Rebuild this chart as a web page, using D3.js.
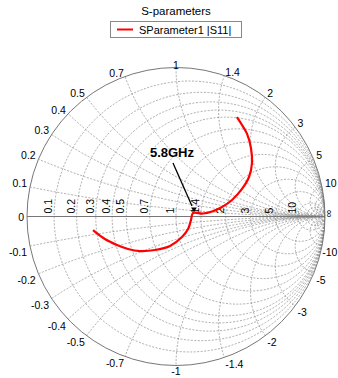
<!DOCTYPE html>
<html>
<head>
<meta charset="utf-8">
<script src="https://cdn.jsdelivr.net/npm/d3@7"></script>
<style>
  body { margin: 0; background: #fff; }
  svg { font-family: Arial, "Liberation Sans", sans-serif; }
</style>
</head>
<body>
<div id="chart"></div>
<script>
// grid values
const resistances = [0.1, 0.2, 0.3, 0.4, 0.5, 0.7, 1, 1.4, 2, 3, 5, 10];
const extraResistances = [15, 20, 30, 50];
const reactances = [0.1, 0.2, 0.3, 0.4, 0.5, 0.7, 1, 1.4, 2, 3, 5, 10];
const extraReactances = [15, 20, 30, 50];

// S11 trace, reflection coefficient
const s11Re = [-0.557, -0.477, -0.396, -0.322, -0.242, -0.141, -0.040, 0.040, 0.081, 0.101, 0.114,
  0.181, 0.242, 0.309, 0.376, 0.443, 0.490, 0.510, 0.503, 0.477, 0.443, 0.409];
const s11Im = [-0.091, -0.151, -0.191, -0.218, -0.232, -0.225, -0.198, -0.138, -0.084, -0.023, 0.023,
  0.020, 0.034, 0.064, 0.111, 0.185, 0.265, 0.359, 0.460, 0.554, 0.614, 0.667];
const markerIndex = 10;
const markerLabel = '5.8GHz';

const width = 338, height = 378;
const cx = 176, cy = 216.5, R = 149;

const svg = d3.select('#chart').append('svg')
  .attr('width', width).attr('height', height);

const x = d3.scaleLinear().domain([-1, 1]).range([cx - R, cx + R]);
const y = d3.scaleLinear().domain([-1, 1]).range([cy + R, cy - R]);
const k = R; // pixels per unit of gamma

svg.append('defs').append('clipPath').attr('id', 'unit')
  .append('circle').attr('cx', x(0)).attr('cy', y(0)).attr('r', k);

const grid = svg.append('g').attr('clip-path', 'url(#unit)')
  .attr('fill', 'none').attr('stroke', '#8a8a8a')
  .attr('stroke-width', 0.7).attr('stroke-dasharray', '2,1.5');

// resistance circles
grid.selectAll('.rc').data(resistances.concat(extraResistances)).enter()
  .append('circle')
  .attr('cx', d => x(d / (1 + d)))
  .attr('cy', y(0))
  .attr('r', d => k / (1 + d));

// reactance arcs
const allX = reactances.concat(extraReactances);
grid.selectAll('.xc').data(allX.concat(allX.map(d => -d))).enter()
  .append('circle')
  .attr('cx', x(1))
  .attr('cy', d => y(1 / d))
  .attr('r', d => k / Math.abs(d));

// outer circle and real axis
svg.append('circle')
  .attr('cx', x(0)).attr('cy', y(0)).attr('r', k)
  .attr('fill', 'none').attr('stroke', '#777').attr('stroke-width', 1);
svg.append('line')
  .attr('x1', x(-1)).attr('x2', x(1)).attr('y1', y(0)).attr('y2', y(0))
  .attr('stroke', '#777').attr('stroke-width', 1);

// resistance labels along the axis
const rLabels = resistances.map(d => ({ v: d, t: String(d) })).concat([{ v: Infinity, t: '∞' }]);
svg.selectAll('.rl').data(rLabels).enter()
  .append('text')
  .attr('transform', d => {
    const g = d.v === Infinity ? 1 : (d.v - 1) / (d.v + 1);
    const px = d.v === Infinity ? x(g) + 7 : x(g) - 2;
    return `translate(${px},${y(0) - 3}) rotate(-90)`;
  })
  .attr('text-anchor', d => d.v === Infinity ? 'middle' : 'start')
  .attr('font-size', 10.5)
  .attr('fill', '#000')
  .text(d => d.t);

// reactance labels around the edge
const xLabels = [{ v: 0, t: '0' }]
  .concat(reactances.map(d => ({ v: d, t: String(d) })))
  .concat(reactances.map(d => ({ v: -d, t: String(-d) })));
const ang = v => Math.PI - 2 * Math.atan(v);
const lr = 1 + 3 / R;
const xl = svg.selectAll('.xl').data(xLabels).enter()
  .append('text')
  .attr('x', d => x(Math.cos(ang(d.v)) * lr))
  .attr('y', d => {
    const c = Math.abs(Math.cos(ang(d.v)));
    const dy = d.v > 0 ? -3 * c : d.v < 0 ? 2.5 + 2.5 * c : 0;
    return y(Math.sin(ang(d.v)) * lr) + dy;
  })
  .attr('text-anchor', d => {
    const c = Math.cos(ang(d.v));
    return c > 0.2 ? 'start' : c < -0.2 ? 'end' : 'middle';
  })
  .attr('dominant-baseline', 'central')
  .attr('font-size', 10.5)
  .attr('fill', '#000')
  .text(d => d.t);

// keep labels inside the page
xl.each(function () {
  const b = this.getBBox();
  if (b.x + b.width > width - 0.5) {
    d3.select(this).attr('x', +d3.select(this).attr('x') - (b.x + b.width - width + 0.5));
  }
});

// trace
const pts = s11Re.map((d, i) => [d, s11Im[i]]);
const line = d3.line()
  .x(d => x(d[0]))
  .y(d => y(d[1]))
  .curve(d3.curveCatmullRom);
svg.append('path')
  .datum(pts)
  .attr('fill', 'none')
  .attr('stroke', '#ff0000')
  .attr('stroke-width', 2.2)
  .attr('d', line);

// marker + annotation
const m = pts[markerIndex];
svg.append('line')
  .attr('x1', x(m[0]) - 20).attr('y1', y(m[1]) - 50)
  .attr('x2', x(m[0]) - 1).attr('y2', y(m[1]) - 7)
  .attr('stroke', '#000').attr('stroke-width', 1.3);
svg.append('path')
  .attr('d', d3.symbol().type(d3.symbolTriangle).size(14))
  .attr('transform', `translate(${x(m[0]) + 1},${y(m[1]) - 4}) rotate(180)`)
  .attr('fill', '#000');
svg.append('text')
  .attr('x', x(m[0]) - 21).attr('y', y(m[1]) - 56)
  .attr('text-anchor', 'middle')
  .attr('font-size', 13).attr('font-weight', 'bold')
  .text(markerLabel);

// title and legend
svg.append('text')
  .attr('x', cx).attr('y', 15)
  .attr('text-anchor', 'middle')
  .attr('font-size', 11.5)
  .text('S-parameters');

const legend = svg.append('g');
legend.append('rect')
  .attr('x', 110.5).attr('y', 21.5).attr('width', 131).attr('height', 16)
  .attr('fill', '#fff').attr('stroke', '#888');
legend.append('line')
  .attr('x1', 117).attr('x2', 133).attr('y1', 29.5).attr('y2', 29.5)
  .attr('stroke', '#ff0000').attr('stroke-width', 2);
legend.append('text')
  .attr('x', 139).attr('y', 33.5)
  .attr('font-size', 11)
  .text('SParameter1 |S11|');
</script>
</body>
</html>
